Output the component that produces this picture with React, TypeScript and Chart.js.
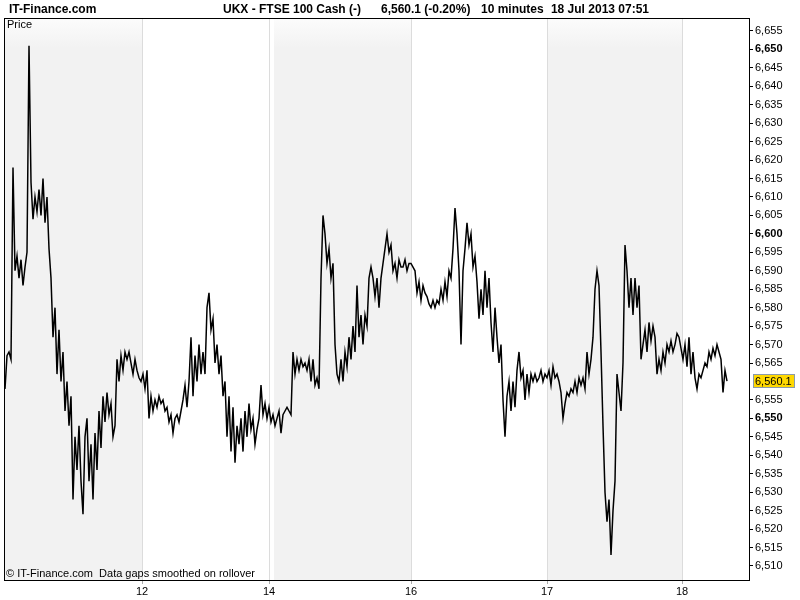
import React, { useEffect, useRef } from 'react';
import { Chart, registerables } from 'chart.js';

Chart.register(...registerables);

// 10-minute closes, UKX - FTSE 100 Cash
const prices: number[] = [
  // Jul 11
  6558, 6567, 6568, 6566, 6618, 6590, 6594, 6588, 6593, 6586,
  6591, 6595, 6651, 6614, 6604, 6610, 6606, 6612, 6605, 6615,
  6603, 6610, 6596, 6588, 6572, 6580, 6562, 6574, 6560, 6568,
  6552, 6560, 6548, 6556, 6528, 6545, 6536, 6548, 6533, 6524,
  6545, 6550, 6533, 6543, 6528, 6546, 6536, 6552, 6542, 6556,
  6549, 6557, 6551, 6554, 6545, 6548, 6566, 6560, 6567, 6563,
  6568, 6566, 6568, 6565, 6562, 6566, 6563, 6561, 6560,
  // Jul 12
  6562, 6558, 6563, 6550, 6556, 6552, 6555, 6553, 6556, 6554,
  6555, 6552, 6553, 6549, 6551, 6546, 6550, 6551, 6549, 6552,
  6555, 6559, 6553, 6560, 6572, 6556, 6567, 6560, 6570, 6562,
  6568, 6562, 6580, 6584, 6574, 6577, 6565, 6570, 6562, 6567,
  6556, 6560, 6545, 6556, 6541, 6553, 6538, 6548, 6543, 6550,
  6541, 6552, 6545, 6554, 6547, 6550, 6543, 6547, 6550, 6559,
  6551, 6554, 6550, 6553,
  // Jul 14 / 15
  6549, 6551, 6548, 6550, 6552, 6546, 6551, 6552, 6553, 6552,
  6551, 6568, 6562, 6566, 6563, 6566, 6564, 6565, 6563, 6566,
  6560, 6566, 6559, 6561, 6558, 6588, 6605, 6600, 6592, 6596,
  6588, 6592, 6570, 6562, 6560, 6566, 6560, 6568, 6564, 6572,
  6566, 6575, 6568, 6586, 6572, 6578, 6570, 6578, 6575, 6588,
  6591, 6588, 6583, 6588, 6580, 6588, 6592, 6596, 6600, 6595,
  6597, 6590, 6592, 6588, 6593, 6591, 6591, 6593, 6590, 6592,
  // Jul 16
  6592, 6591, 6590, 6584, 6587, 6582, 6586, 6584, 6583, 6581,
  6580, 6582, 6580, 6582, 6581, 6585, 6582, 6587, 6583, 6590,
  6588, 6596, 6607, 6600, 6590, 6570, 6590, 6596, 6603, 6597,
  6600, 6591, 6594, 6587, 6577, 6585, 6578, 6590, 6580, 6588,
  6576, 6568, 6580, 6572, 6565, 6570, 6555, 6545, 6556, 6560,
  6552, 6560, 6553, 6563, 6568, 6561, 6563, 6555, 6562, 6557,
  6562, 6560, 6562, 6560, 6561, 6563, 6560, 6562,
  // Jul 17
  6561, 6563, 6559, 6564, 6561, 6562, 6560, 6557, 6550, 6554,
  6557, 6556, 6558, 6557, 6560, 6557, 6561, 6559, 6561, 6558,
  6568, 6562, 6566, 6572, 6585, 6590, 6586, 6568, 6548, 6530,
  6522, 6528, 6513, 6525, 6533, 6562, 6557, 6552, 6565, 6597,
  6590, 6580, 6588, 6578, 6588, 6580, 6586, 6566, 6570, 6574,
  6568, 6576, 6571, 6575, 6572, 6562, 6566, 6563, 6568, 6565,
  6570, 6568, 6571, 6568, 6570, 6573, 6572, 6569,
  // Jul 18
  6566, 6570, 6564, 6572, 6562, 6568, 6561, 6558, 6562, 6561,
  6563, 6565, 6564, 6568, 6566, 6569, 6567, 6570, 6568, 6566,
  6557, 6563, 6560.1,
];

// day boundaries, in bar index units
const dayTickPositions: number[] = [68.5, 132, 203, 271, 338.5];
const dayTickLabels: string[] = ['12', '14', '16', '17', '18'];
const shadedDays: [number, number][] = [[-0.5, 68.5], [134.5, 203], [271, 338.5]];

const priceTicks: number[] = [
  6510, 6515, 6520, 6525, 6530, 6535, 6540, 6545, 6550, 6555,
  6565, 6570, 6575, 6580, 6585, 6590, 6595, 6600, 6605, 6610,
  6615, 6620, 6625, 6630, 6635, 6640, 6645, 6650, 6655,
];
const lastPrice = 6560.1;
const lastPriceLabel = '6,560.1';

const headerLeft = 'IT-Finance.com';
const headerParts: string[] = ['UKX - FTSE 100 Cash (-)', '6,560.1 (-0.20%)', '10 minutes', '18 Jul 2013 07:51'];
const footerText = '\u00A9 IT-Finance.com  Data gaps smoothed on rollover';
const panelLabel = 'Price';

const FONT = '"Liberation Sans", Arial, sans-serif';

function fmt(v: number): string {
  const s = Math.round(v).toString();
  return s.slice(0, s.length - 3) + ',' + s.slice(s.length - 3);
}

export default function App() {
  const ref = useRef<HTMLCanvasElement>(null);

  useEffect(() => {
    document.body.style.margin = '0';
    const canvas = ref.current;
    if (!canvas) return;

    const bandsPlugin = {
      id: 'bands',
      beforeDraw(chart: any) {
        const { ctx, chartArea: a, scales } = chart;
        const x = scales.x;
        ctx.save();
        const g = ctx.createLinearGradient(0, a.top, 0, a.top + 30);
        g.addColorStop(0, '#fcfcfc');
        g.addColorStop(1, '#f2f2f2');
        ctx.fillStyle = g;
        for (const [s, e] of shadedDays) {
          const x0 = Math.max(a.left, x.getPixelForValue(s));
          const x1 = Math.min(a.right, x.getPixelForValue(e));
          ctx.fillRect(x0, a.top, x1 - x0, a.bottom - a.top);
        }
        ctx.restore();
      },
    };

    const decoPlugin = {
      id: 'deco',
      afterDraw(chart: any) {
        const { ctx, chartArea: a, scales } = chart;
        ctx.save();
        // frame
        ctx.strokeStyle = '#000';
        ctx.lineWidth = 1;
        ctx.strokeRect(Math.round(a.left) + 0.5, Math.round(a.top) + 0.5, Math.round(a.right - a.left), Math.round(a.bottom - a.top));

        // header
        ctx.fillStyle = '#000';
        ctx.textBaseline = 'middle';
        ctx.font = `bold 12px ${FONT}`;
        ctx.fillText(headerLeft, 9, 10);
        ctx.textAlign = 'left';
        ctx.fillText(headerParts[0], 223, 10);
        ctx.fillText(headerParts[1], 381, 10);
        ctx.fillText(headerParts[2], 481, 10);
        ctx.textAlign = 'right';
        ctx.fillText(headerParts[3], 649, 10);
        ctx.textAlign = 'left';

        // panel label and footer
        ctx.font = `11px ${FONT}`;
        ctx.fillText(panelLabel, 7, 25);
        ctx.fillText(footerText, 6, a.bottom - 6);

        // last price marker
        const y = scales.y.getPixelForValue(lastPrice);
        const bx = a.right + 4;
        ctx.font = `11px ${FONT}`;
        const w = Math.ceil(ctx.measureText(lastPriceLabel).width) + 5;
        ctx.fillStyle = '#ffd800';
        ctx.fillRect(bx, Math.round(y) - 7, w, 14);
        ctx.strokeStyle = '#8a9aaa';
        ctx.strokeRect(bx + 0.5, Math.round(y) - 6.5, w - 1, 13);
        ctx.fillStyle = '#000';
        ctx.fillText(lastPriceLabel, bx + 2, Math.round(y) + 0.5);
        ctx.restore();
      },
    };

    const chart = new Chart(canvas, {
      type: 'line',
      data: {
        datasets: [
          {
            data: prices.map((p, i) => ({ x: i, y: p })),
            borderColor: '#000',
            borderWidth: 1.5,
            pointRadius: 0,
            tension: 0,
            fill: false,
          },
        ],
      },
      options: {
        responsive: false,
        animation: false,
        events: [],
        layout: { padding: { top: 18, left: 4, right: 0, bottom: 0 } },
        plugins: {
          legend: { display: false },
          tooltip: { enabled: false },
          title: { display: false },
        },
        scales: {
          x: {
            type: 'linear',
            min: -0.5,
            max: 372,
            afterBuildTicks: (s: any) => {
              s.ticks = dayTickPositions.map((v) => ({ value: v }));
            },
            afterFit: (s: any) => {
              s.height = 20;
            },
            ticks: {
              autoSkip: false,
              maxRotation: 0,
              padding: 1,
              color: '#000',
              font: { family: FONT, size: 11 },
              callback: (_v: any, i: number) => dayTickLabels[i],
            },
            grid: {
              color: '#dcdcdc',
              tickColor: '#aaaaaa',
              tickLength: 4,
              drawOnChartArea: true,
            },
            border: { display: false },
          },
          y: {
            type: 'linear',
            position: 'right',
            min: 6506.2,
            max: 6658.5,
            afterBuildTicks: (s: any) => {
              s.ticks = priceTicks.map((v) => ({ value: v }));
            },
            afterFit: (s: any) => {
              s.width = 51;
            },
            ticks: {
              autoSkip: false,
              padding: 2,
              color: '#000',
              font: (c: any) => ({
                family: FONT,
                size: 11,
                weight: c.tick && c.tick.value % 50 === 0 ? 'bold' : 'normal',
              }),
              callback: (v: any) => fmt(Number(v)),
            },
            grid: {
              drawOnChartArea: false,
              tickColor: '#000',
              tickLength: 4,
            },
            border: { display: false },
          },
        },
      },
      plugins: [bandsPlugin, decoPlugin],
    } as any);

    return () => chart.destroy();
  }, []);

  return (
    <div style={{ position: 'absolute', left: 0, top: 0, width: 800, height: 600 }}>
      <canvas ref={ref} width={800} height={600} style={{ display: 'block', width: 800, height: 600 }} />
    </div>
  );
}
